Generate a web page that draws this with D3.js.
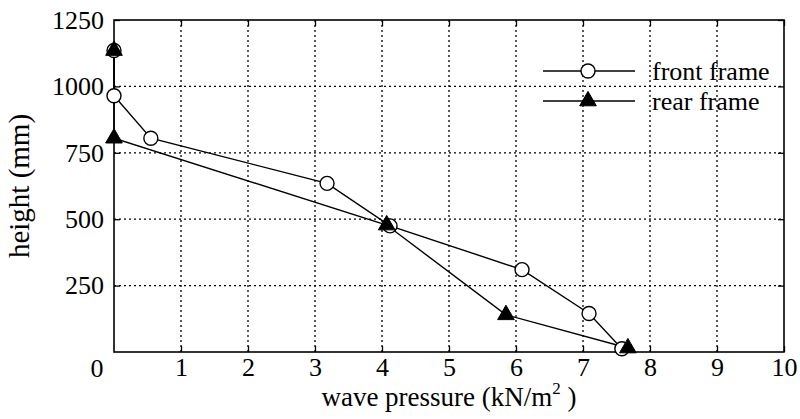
<!DOCTYPE html>
<html>
<head>
<meta charset="utf-8">
<script src="https://cdn.jsdelivr.net/npm/d3@7"></script>
<style>
  html, body { margin: 0; padding: 0; background: #fff; }
  svg { display: block; font-family: "Liberation Serif", "Times New Roman", serif; }
</style>
</head>
<body>
<svg id="chart" width="800" height="419"></svg>
<script>
// Wave pressure distribution over height, front and rear frames
const frontPressure = [0, 0, 0.55, 3.18, 4.12, 6.09, 7.09, 7.58];
const frontHeight   = [1135, 965, 805, 635, 475, 310, 145, 12];
const rearPressure  = [0, 0, 4.07, 5.85, 7.67];
const rearHeight    = [1135, 805, 478, 140, 15];

const xTickValues = [1, 2, 3, 4, 5, 6, 7, 8, 9, 10];
const yTickValues = [250, 500, 750, 1000, 1250];
const originLabel = "0";
const seriesNames = ["front frame", "rear frame"];

const svg = d3.select("#chart");
const W = 800, H = 419;
const m = { left: 114, right: 16, top: 20, bottom: 67 };
const pw = W - m.left - m.right, ph = H - m.top - m.bottom;

const x = d3.scaleLinear().domain([0, 10]).range([m.left, m.left + pw]);
const y = d3.scaleLinear().domain([0, 1250]).range([m.top + ph, m.top]);

svg.append("rect").attr("width", W).attr("height", H).attr("fill", "#fff");

// dotted grid
const grid = svg.append("g").attr("stroke", "#000").attr("stroke-width", 1.3)
  .attr("stroke-dasharray", "2,3");
grid.selectAll("line.vx").data(xTickValues.filter(v => v < 10)).join("line")
  .attr("x1", d => x(d)).attr("x2", d => x(d))
  .attr("y1", y(0)).attr("y2", y(1250));
grid.selectAll("line.hy").data(yTickValues.filter(v => v < 1250)).join("line")
  .attr("x1", x(0)).attr("x2", x(10))
  .attr("y1", d => y(d)).attr("y2", d => y(d));

// axes with inward ticks
const fs = 26;
const xAxis = svg.append("g").attr("transform", `translate(0,${y(0)})`)
  .call(d3.axisBottom(x).tickValues(xTickValues).tickSize(-6).tickPadding(6).tickFormat(d3.format("d")));
const yAxis = svg.append("g").attr("transform", `translate(${x(0)},0)`)
  .call(d3.axisLeft(y).tickValues(yTickValues).tickSize(-6).tickPadding(10).tickFormat(d3.format("d")));
svg.append("g").attr("transform", `translate(${x(10)},0)`)
  .call(d3.axisRight(y).tickValues(yTickValues).tickSize(-6).tickFormat(""));
svg.append("g").attr("transform", `translate(0,${y(1250)})`)
  .call(d3.axisTop(x).tickValues(xTickValues).tickSize(-6).tickFormat(""));

svg.selectAll(".domain").remove();
svg.selectAll(".tick line").attr("stroke", "#000").attr("stroke-width", 1.3);
svg.selectAll(".tick text").attr("font-size", fs).attr("fill", "#000")
  .attr("font-family", "Liberation Serif, serif");
xAxis.selectAll(".tick text").attr("dy", "0.71em");

// origin label shared by both axes
svg.append("text").attr("x", x(0) - 17).attr("y", y(0) + 16)
  .attr("text-anchor", "middle").attr("dy", "0.35em")
  .attr("font-size", fs).text(originLabel);

// frame
svg.append("rect").attr("x", x(0)).attr("y", y(1250)).attr("width", pw).attr("height", ph)
  .attr("fill", "none").attr("stroke", "#000").attr("stroke-width", 1.6);

// axis titles
svg.append("text").attr("x", (x(0) + x(10)) / 2).attr("y", 406)
  .attr("text-anchor", "middle").attr("font-size", 27)
  .call(t => {
    t.append("tspan").text("wave pressure (kN/m");
    t.append("tspan").attr("font-size", 17).attr("dy", -12).text("2");
    t.append("tspan").attr("dy", 12).text(" )");
  });
svg.append("text")
  .attr("transform", `translate(29,${(y(0) + y(1250)) / 2}) rotate(-90)`)
  .attr("text-anchor", "middle").attr("font-size", 29).text("height (mm)");

const front = frontPressure.map((p, i) => [p, frontHeight[i]]);
const rear = rearPressure.map((p, i) => [p, rearHeight[i]]);
const line = d3.line().x(d => x(d[0])).y(d => y(d[1]));

svg.append("path").datum(front).attr("d", line)
  .attr("fill", "none").attr("stroke", "#000").attr("stroke-width", 1.4);
svg.append("path").datum(rear).attr("d", line)
  .attr("fill", "none").attr("stroke", "#000").attr("stroke-width", 1.4);

const circleSym = d3.symbol().type(d3.symbolCircle).size(Math.PI * 7 * 7);
const triSym = d3.symbol().type(d3.symbolTriangle).size(120);

svg.append("g").selectAll("path").data(front).join("path")
  .attr("d", circleSym)
  .attr("transform", d => `translate(${x(d[0])},${y(d[1])})`)
  .attr("fill", "#fff").attr("stroke", "#000").attr("stroke-width", 1.4);
svg.append("g").selectAll("path").data(rear).join("path")
  .attr("d", triSym)
  .attr("transform", d => `translate(${x(d[0])},${y(d[1])})`)
  .attr("fill", "#000").attr("stroke", "#000").attr("stroke-width", 1);

// legend
const lg = svg.append("g");
const legendRows = [
  { name: seriesNames[0], sym: circleSym, fill: "#fff", sw: 1.4, yy: 71 },
  { name: seriesNames[1], sym: triSym, fill: "#000", sw: 1, yy: 101 }
];
legendRows.forEach(r => {
  lg.append("line").attr("x1", 543).attr("x2", 635).attr("y1", r.yy).attr("y2", r.yy)
    .attr("stroke", "#000").attr("stroke-width", 1.4);
  lg.append("path").attr("d", r.sym).attr("transform", `translate(588,${r.yy})`)
    .attr("fill", r.fill).attr("stroke", "#000").attr("stroke-width", r.sw);
  lg.append("text").attr("x", 652).attr("y", r.yy).attr("dy", "0.35em")
    .attr("font-size", fs).text(r.name);
});
</script>
</body>
</html>
